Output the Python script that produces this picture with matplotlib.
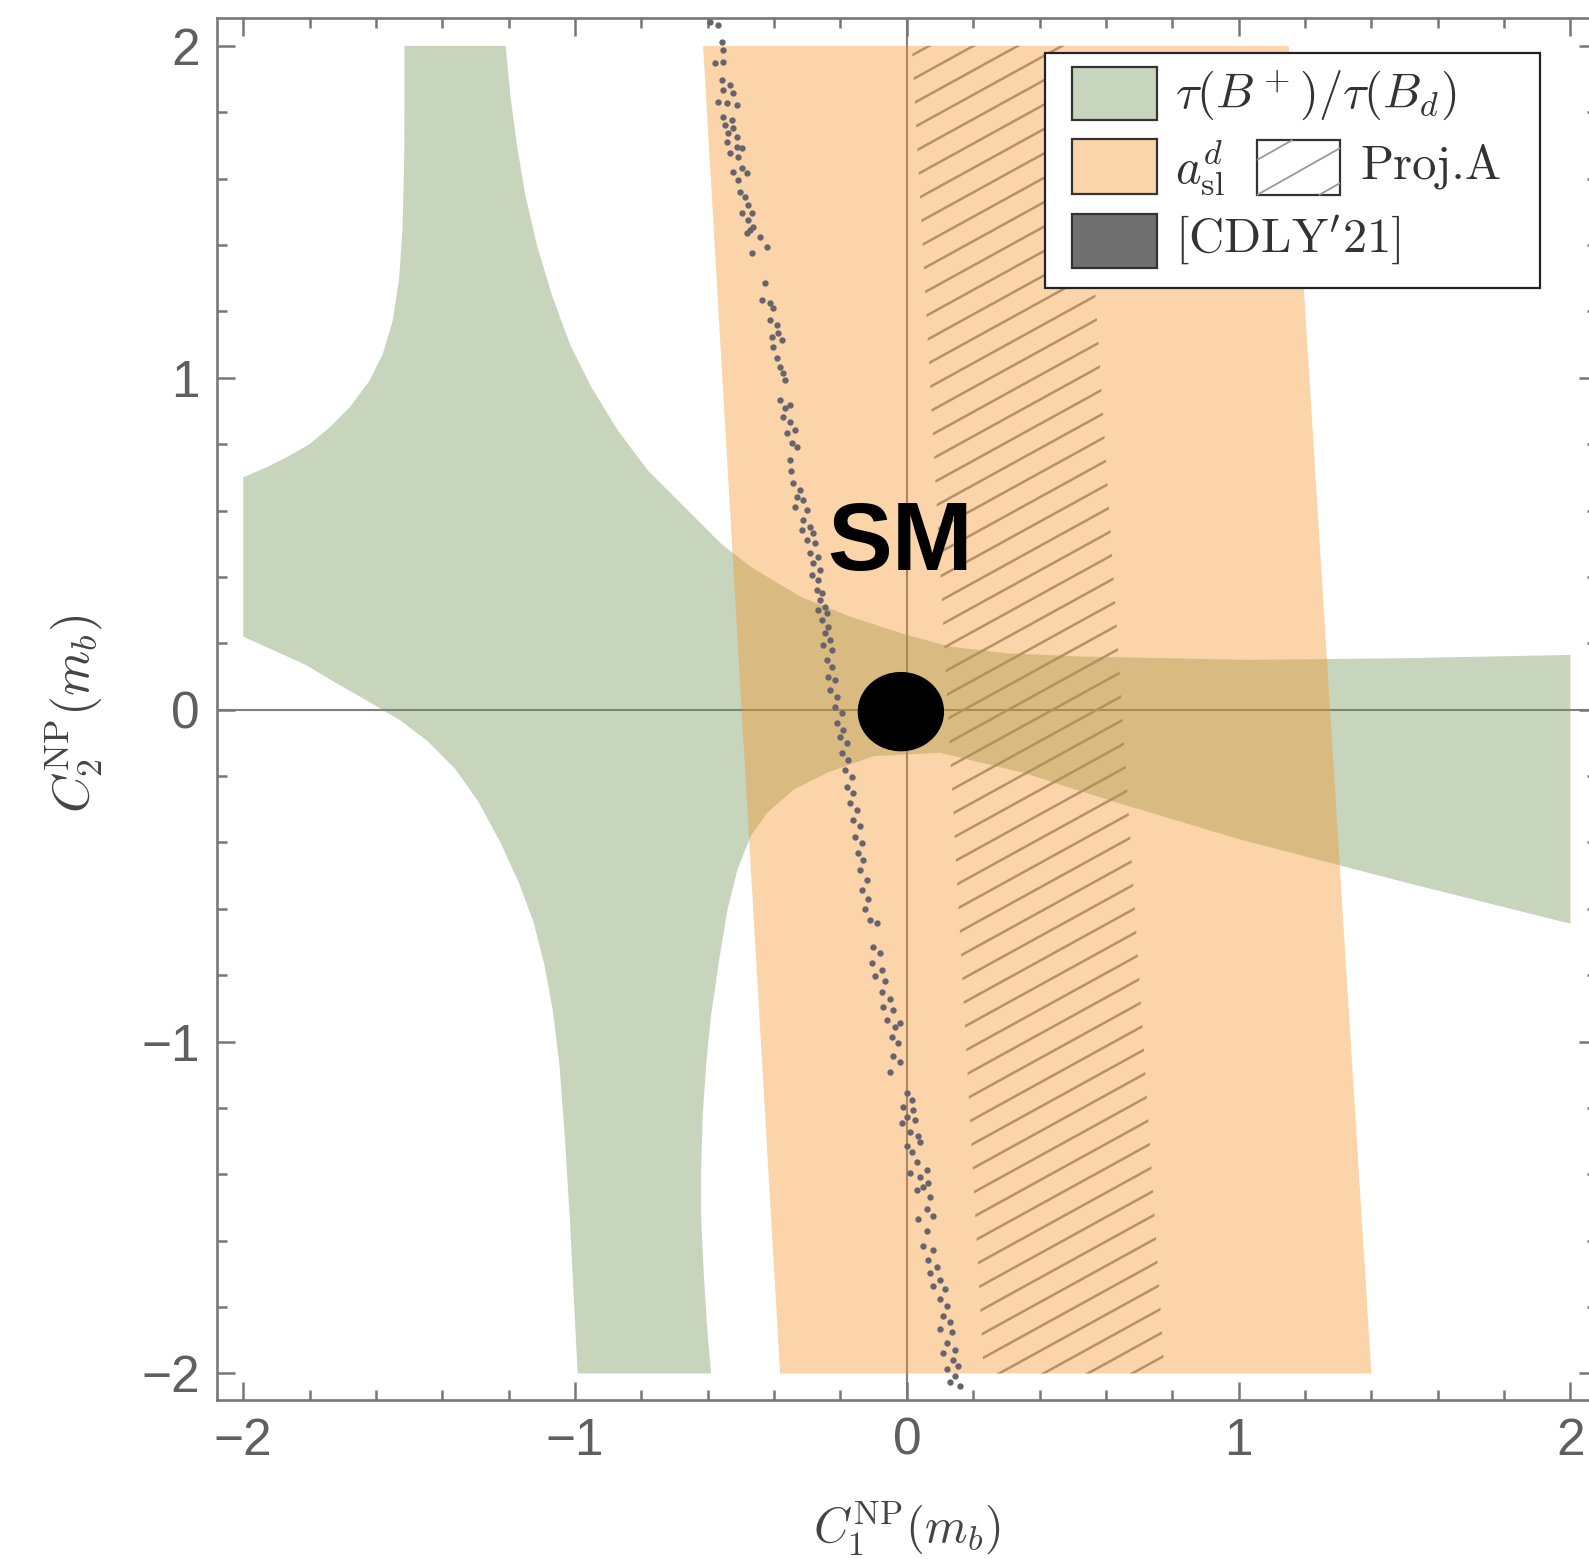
import matplotlib
matplotlib.use("Agg")
import matplotlib.pyplot as plt
from matplotlib.patches import Polygon, Rectangle, Ellipse
from matplotlib.collections import LineCollection
import numpy as np

# allowed region from tau(B+)/tau(Bd), boundary traced clockwise
tau_x = [-1.514, -1.209, -1.195, -1.175, -1.15, -1.115, -1.07, -1.015, -0.95, -0.87,
         -0.78, -0.67, -0.56, -0.47, -0.32, -0.17, 0.0, 0.13, 0.30, 0.53,
         1.03, 1.5, 2.0,
         2.0, 1.5, 1.0, 0.6, 0.35, 0.1, -0.1, -0.24, -0.34, -0.42,
         -0.47, -0.51, -0.54, -0.565, -0.59, -0.605, -0.615, -0.62, -0.62, -0.612,
         -0.603, -0.59,
         -0.992, -1.005, -1.016, -1.03, -1.047, -1.068, -1.093, -1.125, -1.169, -1.225,
         -1.291, -1.36, -1.444, -1.53, -1.627, -1.72, -1.81, -1.90, -2.0,
         -2.0, -1.93, -1.87, -1.80, -1.74, -1.68, -1.62, -1.58, -1.55, -1.53,
         -1.52, -1.515, -1.514]
tau_y = [2.0, 2.0, 1.85, 1.7, 1.55, 1.4, 1.25, 1.1, 0.97, 0.84,
         0.72, 0.61, 0.50, 0.43, 0.34, 0.28, 0.225, 0.19, 0.17, 0.16,
         0.15, 0.155, 0.165,
         -0.645, -0.52, -0.39, -0.27, -0.19, -0.13, -0.14, -0.19, -0.24, -0.31,
         -0.38, -0.48, -0.60, -0.75, -0.92, -1.07, -1.22, -1.38, -1.53, -1.7,
         -1.85, -2.0,
         -2.0, -1.75, -1.53, -1.3, -1.07, -0.9, -0.766, -0.64, -0.522, -0.40,
         -0.278, -0.18, -0.095, -0.03, 0.027, 0.08, 0.134, 0.175, 0.22,
         0.70, 0.73, 0.76, 0.80, 0.85, 0.91, 0.99, 1.07, 1.17, 1.30,
         1.45, 1.65, 1.85]

# a_sl^d band and projection A band
asl_x = [-0.614, 1.151, 1.40, -0.382]
asl_y = [2.0, 2.0, -2.0, -2.0]
proj_x = [0.015, 0.52, 0.777, 0.232]
proj_y = [2.0, 2.0, -2.0, -2.0]

# [CDLY'21] scan points
cdly_x = [-0.593, -0.569, -0.558, -0.554, -0.578, -0.554, -0.558, -0.533, -0.554, -0.524,
          -0.569, -0.542, -0.512, -0.554, -0.527, -0.548, -0.524, -0.539, -0.512, -0.542,
          -0.512, -0.497, -0.533, -0.509, -0.524, -0.497, -0.509, -0.482, -0.503, -0.488,
          -0.479, -0.497, -0.467, -0.479, -0.464, -0.482, -0.473, -0.443, -0.422, -0.467,
          -0.428, -0.437, -0.413, -0.404, -0.413, -0.392, -0.389, -0.407, -0.377, -0.404,
          -0.392, -0.383, -0.374, -0.367, -0.383, -0.367, -0.352, -0.374, -0.352, -0.337,
          -0.361, -0.346, -0.331, -0.352, -0.349,
          -0.343, -0.322, -0.331, -0.313, -0.337, -0.301, -0.313, -0.292, -0.316, -0.283,
          -0.301, -0.277, -0.292, -0.268, -0.283, -0.262, -0.286, -0.268, -0.271, -0.256,
          -0.262, -0.247, -0.268, -0.241, -0.256, -0.238, -0.247, -0.232, -0.253, -0.226,
          -0.241, -0.226, -0.238, -0.217, -0.232, -0.211, -0.217, -0.196, -0.211, -0.193,
          -0.202, -0.181, -0.196, -0.178, -0.187, -0.166, -0.181, -0.163, -0.172, -0.151,
          -0.163, -0.142, -0.157, -0.136, -0.148, -0.133, -0.142, -0.120, -0.136, -0.117,
          -0.127, -0.111,
          -0.090, -0.102, -0.081, -0.105, -0.075, -0.096, -0.066, -0.075, -0.051, -0.072,
          -0.042, -0.060, -0.036, -0.021, -0.045, -0.027, -0.042, -0.021, -0.051, 0.000,
          0.015, -0.012, 0.018, 0.000, 0.024, -0.015, 0.009, 0.033, 0.000, 0.039,
          0.015, 0.030, 0.009, 0.039, 0.060, 0.063, 0.048, 0.030, 0.069, 0.033,
          0.060, 0.078, 0.060, 0.048, 0.078, 0.063, 0.090, 0.069, 0.099, 0.078,
          0.114, 0.099, 0.120, 0.108, 0.130, 0.099, 0.136, 0.120, 0.145, 0.108,
          0.139, 0.154, 0.120, 0.145, 0.130, 0.160]
cdly_y = [2.072, 2.063, 2.013, 1.988, 1.949, 1.952, 1.898, 1.883, 1.867, 1.858,
          1.831, 1.828, 1.822, 1.786, 1.777, 1.762, 1.753, 1.738, 1.726, 1.711,
          1.696, 1.693, 1.678, 1.666, 1.620, 1.633, 1.596, 1.617, 1.560, 1.545,
          1.521, 1.497, 1.497, 1.476, 1.455, 1.437, 1.446, 1.425, 1.395, 1.377,
          1.286, 1.235, 1.226, 1.211, 1.175, 1.160, 1.136, 1.124, 1.114, 1.093,
          1.060, 1.033, 1.015, 0.994, 0.934, 0.910, 0.919, 0.883, 0.867, 0.843,
          0.834, 0.804, 0.792, 0.753, 0.720,
          0.684, 0.663, 0.642, 0.633, 0.611, 0.602, 0.572, 0.551, 0.542, 0.533,
          0.512, 0.503, 0.473, 0.461, 0.443, 0.422, 0.407, 0.392, 0.361, 0.352,
          0.331, 0.310, 0.301, 0.292, 0.271, 0.250, 0.232, 0.211, 0.196, 0.181,
          0.151, 0.130, 0.099, 0.090, 0.060, 0.039, 0.009, -0.009, -0.039, -0.060,
          -0.081, -0.099, -0.130, -0.151, -0.181, -0.202, -0.232, -0.250, -0.280, -0.301,
          -0.331, -0.352, -0.383, -0.401, -0.431, -0.452, -0.482, -0.512, -0.542, -0.572,
          -0.602, -0.633,
          -0.642, -0.714, -0.732, -0.762, -0.783, -0.804, -0.819, -0.852, -0.873, -0.895,
          -0.904, -0.934, -0.955, -0.943, -0.985, -1.003, -1.045, -1.063, -1.093, -1.154,
          -1.175, -1.196, -1.205, -1.226, -1.235, -1.244, -1.274, -1.286, -1.316, -1.304,
          -1.334, -1.364, -1.395, -1.407, -1.386, -1.425, -1.437, -1.446, -1.467, -1.536,
          -1.506, -1.527, -1.572, -1.617, -1.627, -1.657, -1.678, -1.696, -1.717, -1.738,
          -1.747, -1.777, -1.798, -1.828, -1.846, -1.867, -1.876, -1.907, -1.928, -1.937,
          -1.958, -1.979, -1.988, -2.009, -2.027, -2.039]

sm_x, sm_y = -0.018, -0.006
ticks = [-2, -1, 0, 1, 2]

W, H = 1589, 1559
plt.rcParams["mathtext.fontset"] = "cm"


def box_hatch(x0, x1, ytop, ybot, starts, k):
    # slanted lines rising to the right, cut to a box given in pixels (y down)
    segs = []
    for yl in starts:
        xa = max(x0, x0 + (yl - ybot) / k)
        xb = min(x1, x0 + (yl - ytop) / k)
        if xb > xa:
            segs.append([(xa, yl - k * (xa - x0)), (xb, yl - k * (xb - x0))])
    return segs


fig = plt.figure(figsize=(W / 100, H / 100), dpi=100)
ax = fig.add_axes([216.7 / W, 1 - 1400 / H, 1380.3 / W, 1381.7 / H])
ax.set_xlim(-2.08, 2.08)
ax.set_ylim(-2.08, 2.083)

# axes through the origin and the hatching sit under the translucent regions
ax.axhline(0, color="#808080", lw=1.5, zorder=1)
ax.axvline(0, color="#808080", lw=1.5, zorder=1)

proj_patch = Polygon(np.column_stack([proj_x, proj_y]), closed=True,
                     facecolor="none", edgecolor="none")
ax.add_patch(proj_patch)
slope, gap = 0.55, 0.0735
cs = 0.934 + gap * np.arange(-50, 20)
segs = [[(-2.1, slope * -2.1 + c), (2.1, slope * 2.1 + c)] for c in cs]
hatch = LineCollection(segs, colors="#8f8f8f", linewidths=1.8, zorder=2)
hatch.set_clip_path(proj_patch)
ax.add_collection(hatch)

ax.fill(tau_x, tau_y, color="#75965C", alpha=0.4, lw=0, zorder=3)
ax.fill(asl_x, asl_y, color="#F5962A", alpha=0.4, lw=0, zorder=4)

ax.scatter(cdly_x, cdly_y, s=21, color="#67646e", lw=0, zorder=5)

ax.add_patch(Ellipse((sm_x, sm_y), 0.256, 0.235, color="black", zorder=6))
ax.text(-0.02, 0.42, "SM", fontsize=70, fontweight="bold", family="Liberation Sans",
        ha="center", va="baseline", zorder=7)

ax.set_xticks(ticks)
ax.set_yticks(ticks)
ax.set_xticks(np.arange(-2, 2.01, 0.2), minor=True)
ax.set_yticks(np.arange(-2, 2.01, 0.2), minor=True)
ax.tick_params(which="both", direction="in", top=True, right=True,
               color="#777777", width=1.8, labelcolor="#5f5f5f", labelsize=37)
ax.tick_params(which="major", length=13, pad=12)
ax.tick_params(which="minor", length=7)
for lab in ax.get_xticklabels() + ax.get_yticklabels():
    lab.set_family("Liberation Sans")
for sp in ax.spines.values():
    sp.set_color("#777777")
    sp.set_linewidth(1.9)

ax.set_xlabel(r"$C_1^{\rm NP}(m_b)$", fontsize=35, color="#444444")
ax.set_ylabel(r"$C_2^{\rm NP}(m_b)$", fontsize=37, color="#444444")
ax.xaxis.set_label_coords((907 - 216.7) / 1380.3, (1400 - 1499) / 1381.7)
ax.yaxis.set_label_coords((104 - 216.7) / 1380.3, (1400 - 714) / 1381.7)

# legend drawn on a pixel overlay
lay = fig.add_axes([0, 0, 1, 1])
lay.set_xlim(0, W)
lay.set_ylim(H, 0)
lay.axis("off")
lay.set_zorder(5)
lay.add_patch(Rectangle((1045, 53), 495, 235, facecolor="white",
                        edgecolor="#222222", lw=1.6))
sw = dict(edgecolor="#333333", lw=1.6)
lay.add_patch(Rectangle((1072, 67), 85, 53, facecolor="#C8D5BE", **sw))
lay.add_patch(Rectangle((1072, 139), 85, 55, facecolor="#FBD5AA", **sw))
lay.add_patch(Rectangle((1072, 214), 85, 54, facecolor="#707070", **sw))
lay.add_collection(LineCollection(box_hatch(1257, 1340, 140, 195, [160, 195, 230], 0.565),
                                  colors="#999999", linewidths=1.3))
lay.add_patch(Rectangle((1257, 140), 83, 55, facecolor="none", **sw))

tk = dict(fontsize=35, color="#333333", va="center", ha="left")
lay.text(1175, 95, r"$\tau(B^+)/\tau(B_d)$", **tk)
lay.text(1175, 168, r"$a_{\rm sl}^d$", **tk)
lay.text(1360, 166, "Proj.A", family="cmr10", **tk)
lay.text(1175, 240, r"$[\mathrm{CDLY}'21]$", **tk)

fig.savefig("out.png", dpi=100)
